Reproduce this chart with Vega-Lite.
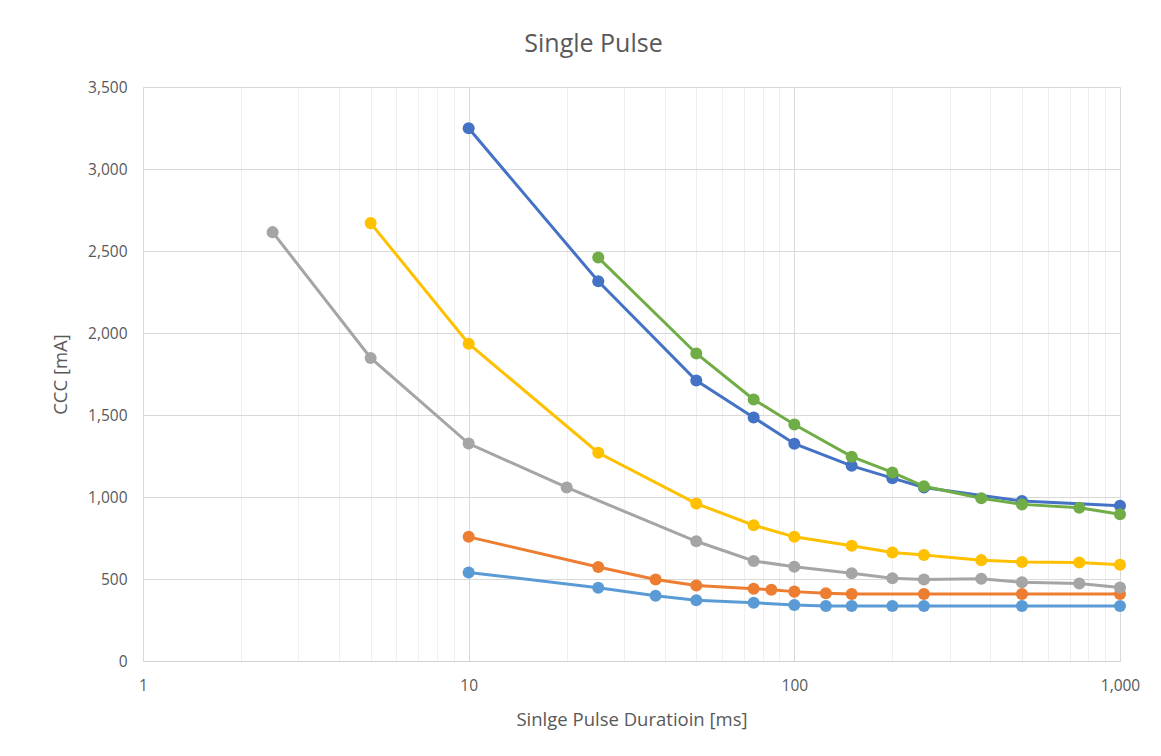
{
  "$schema": "https://vega.github.io/schema/vega-lite/v6.json",
  "width": 977,
  "height": 574,
  "autosize": {"type": "none"},
  "padding": {"left": 143, "top": 87, "right": 41, "bottom": 95},
  "background": "white",
  "title": {"text": "Single Pulse", "fontSize": 25, "font": "Open Sans", "fontWeight": "normal", "color": "#595959", "offset": 23, "dx": -38, "anchor": "middle"},
  "config": {
    "view": {"stroke": null},
    "axis": {"labelFont": "Open Sans", "titleFont": "Open Sans", "labelColor": "#595959", "titleColor": "#595959", "labelFontSize": 15.5, "titleFontSize": 18.5, "titleFontWeight": "normal", "ticks": false}
  },
  "data": {"values": [
    {"s": "S1", "x": 10, "y": 540}, {"s": "S1", "x": 25, "y": 447}, {"s": "S1", "x": 37.5, "y": 398}, {"s": "S1", "x": 50, "y": 370}, {"s": "S1", "x": 75, "y": 355}, {"s": "S1", "x": 100, "y": 342}, {"s": "S1", "x": 125, "y": 335}, {"s": "S1", "x": 150, "y": 335}, {"s": "S1", "x": 200, "y": 335}, {"s": "S1", "x": 250, "y": 335}, {"s": "S1", "x": 500, "y": 335}, {"s": "S1", "x": 1000, "y": 335},
    {"s": "S2", "x": 10, "y": 757}, {"s": "S2", "x": 25, "y": 573}, {"s": "S2", "x": 37.5, "y": 497}, {"s": "S2", "x": 50, "y": 460}, {"s": "S2", "x": 75, "y": 440}, {"s": "S2", "x": 85, "y": 435}, {"s": "S2", "x": 100, "y": 423}, {"s": "S2", "x": 125, "y": 413}, {"s": "S2", "x": 150, "y": 408}, {"s": "S2", "x": 250, "y": 408}, {"s": "S2", "x": 500, "y": 408}, {"s": "S2", "x": 1000, "y": 408},
    {"s": "S3", "x": 2.5, "y": 2615}, {"s": "S3", "x": 5, "y": 1848}, {"s": "S3", "x": 10, "y": 1326}, {"s": "S3", "x": 20, "y": 1058}, {"s": "S3", "x": 50, "y": 730}, {"s": "S3", "x": 75, "y": 610}, {"s": "S3", "x": 100, "y": 575}, {"s": "S3", "x": 150, "y": 535}, {"s": "S3", "x": 200, "y": 505}, {"s": "S3", "x": 250, "y": 497}, {"s": "S3", "x": 375, "y": 502}, {"s": "S3", "x": 500, "y": 480}, {"s": "S3", "x": 750, "y": 472}, {"s": "S3", "x": 1000, "y": 448},
    {"s": "S4", "x": 5, "y": 2670}, {"s": "S4", "x": 10, "y": 1935}, {"s": "S4", "x": 25, "y": 1270}, {"s": "S4", "x": 50, "y": 960}, {"s": "S4", "x": 75, "y": 828}, {"s": "S4", "x": 100, "y": 757}, {"s": "S4", "x": 150, "y": 703}, {"s": "S4", "x": 200, "y": 662}, {"s": "S4", "x": 250, "y": 646}, {"s": "S4", "x": 375, "y": 615}, {"s": "S4", "x": 500, "y": 604}, {"s": "S4", "x": 750, "y": 600}, {"s": "S4", "x": 1000, "y": 587},
    {"s": "S5", "x": 10, "y": 3248}, {"s": "S5", "x": 25, "y": 2315}, {"s": "S5", "x": 50, "y": 1710}, {"s": "S5", "x": 75, "y": 1485}, {"s": "S5", "x": 100, "y": 1325}, {"s": "S5", "x": 150, "y": 1190}, {"s": "S5", "x": 200, "y": 1115}, {"s": "S5", "x": 250, "y": 1058}, {"s": "S5", "x": 500, "y": 976}, {"s": "S5", "x": 1000, "y": 947},
    {"s": "S6", "x": 25, "y": 2460}, {"s": "S6", "x": 50, "y": 1875}, {"s": "S6", "x": 75, "y": 1595}, {"s": "S6", "x": 100, "y": 1442}, {"s": "S6", "x": 150, "y": 1246}, {"s": "S6", "x": 200, "y": 1150}, {"s": "S6", "x": 250, "y": 1065}, {"s": "S6", "x": 375, "y": 992}, {"s": "S6", "x": 500, "y": 955}, {"s": "S6", "x": 750, "y": 935}, {"s": "S6", "x": 1000, "y": 895}
  ]},
  "mark": {"type": "line", "strokeWidth": 3, "point": {"filled": true, "size": 145, "opacity": 1}},
  "encoding": {
    "x": {
      "field": "x", "type": "quantitative",
      "scale": {"type": "log", "domain": [1, 1000], "nice": false},
      "axis": {
        "title": "Sinlge Pulse Duratioin [ms]",
        "values": [1, 2, 3, 4, 5, 6, 7, 8, 9, 10, 20, 30, 40, 50, 60, 70, 80, 90, 100, 200, 300, 400, 500, 600, 700, 800, 900, 1000],
        "labelExpr": "indexof([1, 10, 100, 1000], datum.value) >= 0 ? format(datum.value, ',') : ''",
        "gridColor": {"condition": {"test": "indexof([1, 10, 100, 1000], datum.value) >= 0", "value": "#d9d9d9"}, "value": "#efefef"},
        "domainColor": "#d0d0d0",
        "labelPadding": 17,
        "titlePadding": 17,
        "labelFlush": false,
        "labelOverlap": false
      }
    },
    "y": {
      "field": "y", "type": "quantitative",
      "scale": {"domain": [0, 3500], "nice": false},
      "axis": {
        "title": "CCC [mA]",
        "values": [0, 500, 1000, 1500, 2000, 2500, 3000, 3500],
        "labelExpr": "format(datum.value, ',')",
        "gridColor": "#d9d9d9",
        "domainColor": "#d9d9d9",
        "labelPadding": 16,
        "titlePadding": 17
      }
    },
    "color": {
      "field": "s", "type": "nominal",
      "scale": {"domain": ["S1", "S2", "S3", "S4", "S5", "S6"], "range": ["#5B9BD5", "#ED7D31", "#A5A5A5", "#FFC000", "#4472C4", "#70AD47"]},
      "legend": null
    }
  }
}
